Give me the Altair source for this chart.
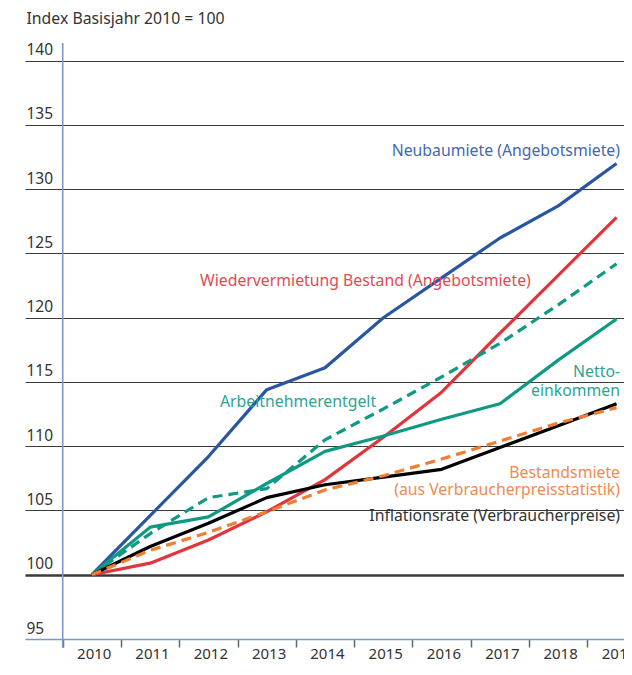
import altair as alt
import pandas as pd

# ---- data ----
years = [2010, 2011, 2012, 2013, 2014, 2015, 2016, 2017, 2018, 2019]
neubaumiete = [100, 104.6, 109.2, 114.4, 116.1, 120.0, 123.1, 126.2, 128.7, 132.0]
wiedervermietung = [100, 100.9, 102.7, 104.9, 107.4, 110.7, 114.2, 118.8, 123.3, 127.8]
arbeitnehmerentgelt = [100, 103.2, 106.0, 106.7, 110.5, 112.9, 115.4, 118.0, 121.0, 124.2]
nettoeinkommen = [100, 103.7, 104.5, 107.1, 109.6, 110.8, 112.1, 113.3, 116.7, 119.9]
inflationsrate = [100, 102.2, 104.0, 106.0, 107.0, 107.6, 108.2, 109.9, 111.6, 113.3]
bestandsmiete = [100, 101.9, 103.3, 104.9, 106.6, 107.7, 109.0, 110.4, 111.8, 113.0]

y_ticks = [95, 100, 105, 110, 115, 120, 125, 130, 135, 140]
x_tick_bounds = [y - 0.5 for y in years]

label_texts = ["Neubaumiete (Angebotsmiete)",
               "Wiedervermietung Bestand (Angebotsmiete)",
               "Arbeitnehmerentgelt",
               "Netto-\neinkommen",
               "Bestandsmiete\n(aus Verbraucherpreisstatistik)",
               "Inflationsrate (Verbraucherpreise)"]
label_x = [2019.06, 2011.855, 2012.198, 2019.06, 2019.06, 2019.06]
label_y = [132.6, 122.43, 113.05, 115.35, 107.53, 104.15]
label_color = ["#4468b0", "#e24a55", "#2aa592", "#2aa592", "#f08a50", "#333333"]
label_align = ["right", "left", "left", "right", "right", "right"]
label_line_height = [19, 19, 19, 19, 16.8, 19]

# ---- layout ----
PLOT_W = 599
PLOT_H = 596
FONT = "Noto Sans"

x_scale = alt.Scale(domain=[2008.853, 2019.128], nice=False, zero=False)
y_scale = alt.Scale(domain=[95, 141.375], nice=False, zero=False)

series = [
    ("Neubaumiete", neubaumiete, "#2a55a3", None),
    ("Wiedervermietung", wiedervermietung, "#e2343d", None),
    ("Arbeitnehmerentgelt", arbeitnehmerentgelt, "#0e9a82", [10, 6]),
    ("Nettoeinkommen", nettoeinkommen, "#0e9a82", None),
    ("Inflationsrate", inflationsrate, "#000000", None),
    ("Bestandsmiete", bestandsmiete, "#ef7d32", [10, 6]),
]

x_axis = alt.Axis(
    values=x_tick_bounds,
    labelExpr="format(datum.value + 0.5, 'd')",
    labelOffset=31.0,
    tickSize=8, tickColor="#666666", tickWidth=1.5,
    domainColor="#7b97cb", domainWidth=1.6,
    grid=False, labelFontSize=15, labelColor="#333333", labelFont=FONT,
    labelBaseline="alphabetic", labelPadding=11,
    labelFlush=False, labelOverlap=False, title=None,
)
y_axis = alt.Axis(
    values=y_ticks, orient="left", domain=False, ticks=False, tickSize=0,
    labelAlign="left", labelPadding=-1, labelBaseline="alphabetic", labelOffset=-6,
    labelFontSize=15.5, labelColor="#333333", labelFont=FONT,
    grid=True,
    gridColor=alt.condition("datum.value == 95", alt.value("transparent"), alt.value("#3a3a3a")),
    gridWidth=alt.condition("datum.value == 100", alt.value(2.6), alt.value(1.1)),
    title="Index Basisjahr 2010 = 100", titleAngle=0, titleAlign="left",
    titleBaseline="alphabetic", titleX=1, titleY=-19.5, titleFontSize=15.8,
    titleFontWeight="normal", titleColor="#333333", titleFont=FONT,
)

layers = []
base_df = pd.DataFrame({"x": [2009.5], "y": [95]})
axis_layer = alt.Chart(base_df).mark_point(opacity=0).encode(
    x=alt.X("x:Q", scale=x_scale, axis=x_axis),
    y=alt.Y("y:Q", scale=y_scale, axis=y_axis),
)
layers.append(axis_layer)

# blue vertical axis line at the 2010 band's left edge
yline = alt.Chart(pd.DataFrame({"x": [x_tick_bounds[0]]})).mark_rule(
    color="#7b97cb", strokeWidth=1.6
).encode(x=alt.X("x:Q", scale=x_scale), y=alt.value(0), y2=alt.value(PLOT_H + 9))
layers.append(yline)

for name, vals, color, dash in series:
    df = pd.DataFrame({"year": years, "value": vals})
    kw = dict(color=color, strokeWidth=3.2, strokeCap="butt", strokeJoin="round")
    if dash:
        kw["strokeDash"] = dash
    layers.append(
        alt.Chart(df).mark_line(**kw).encode(
            x=alt.X("year:Q", scale=x_scale),
            y=alt.Y("value:Q", scale=y_scale),
        )
    )

for txt, lx, ly, col, al, lh in zip(label_texts, label_x, label_y, label_color,
                                     label_align, label_line_height):
    ldf = pd.DataFrame({"text": [txt], "x": [lx], "y": [ly]})
    layers.append(
        alt.Chart(ldf).mark_text(
            align=al, baseline="alphabetic", fontSize=15.8, font=FONT,
            color=col, lineBreak="\n", lineHeight=lh,
        ).encode(
            x=alt.X("x:Q", scale=x_scale),
            y=alt.Y("y:Q", scale=y_scale),
            text="text:N",
        )
    )

chart = alt.layer(*layers).properties(
    width=PLOT_W, height=PLOT_H,
    autosize=alt.AutoSizeParams(type="none"),
    padding={"left": 17, "top": 35, "right": 0, "bottom": 23},
    background="white",
).configure_view(stroke=None)

chart.save("out.html", embed_options={"renderer": "svg", "actions": False})
